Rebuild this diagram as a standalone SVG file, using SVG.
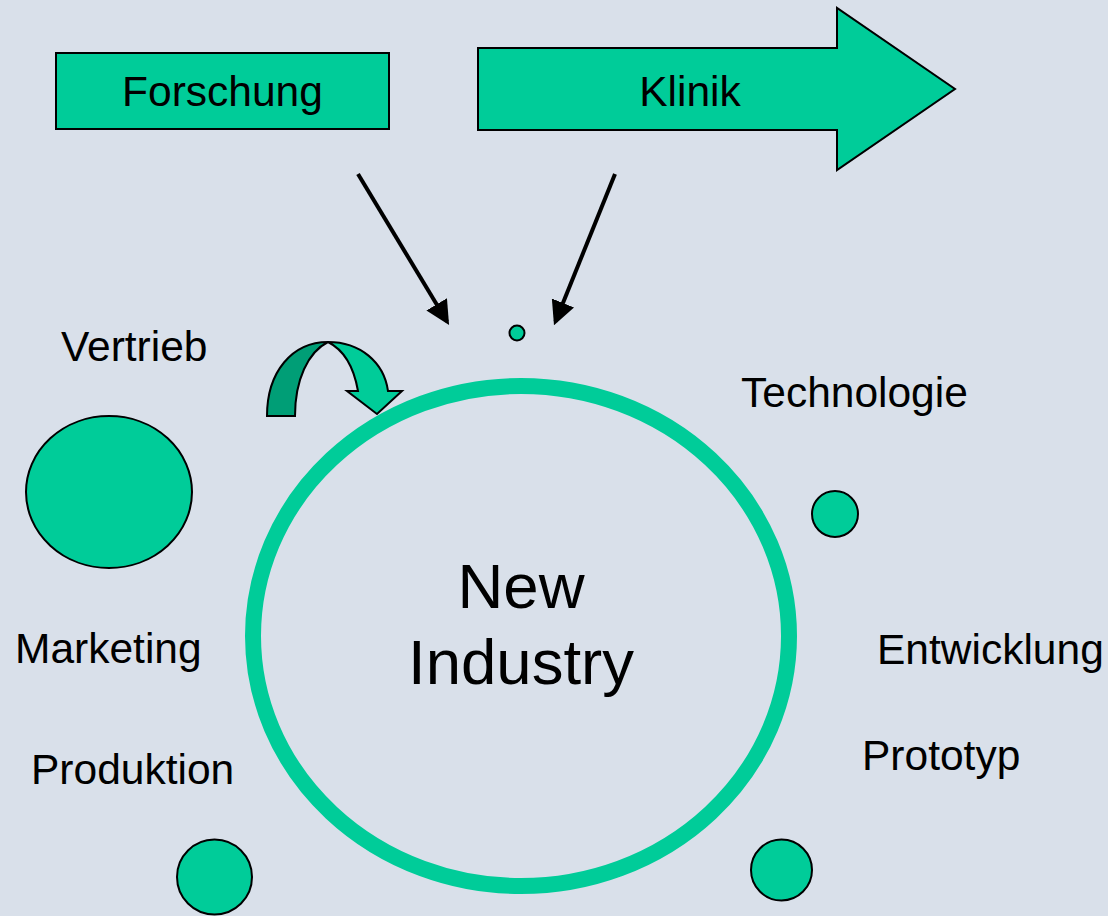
<svg xmlns="http://www.w3.org/2000/svg" width="1108" height="916" viewBox="0 0 1108 916">
<defs>
<style>
.lbl{font-family:"Liberation Sans",Arial,sans-serif;font-size:42.5px;fill:#000}
.big{font-family:"Liberation Sans",Arial,sans-serif;font-size:63.5px;fill:#000;text-anchor:middle}
.g{fill:#00CC99;stroke:#000;stroke-width:2}
.con{stroke:#000;stroke-width:4;fill:none}
</style>
<marker id="ah" markerWidth="6" markerHeight="6" refX="5" refY="3" orient="auto" markerUnits="strokeWidth">
<path d="M0,0 L6,3 L0,6 Z" fill="#000"/>
</marker>
</defs>
<rect width="1108" height="916" fill="#D9E0EA"/>
<g id="forschung">
<rect class="g" x="56" y="53" width="333" height="76"/>
<text class="lbl" x="222.5" y="106" text-anchor="middle">Forschung</text>
</g>
<g id="klinik">
<path class="g" d="M478,48 L837,48 L837,8 L955,89 L837,170 L837,130 L478,130 Z"/>
<text class="lbl" x="690" y="106" text-anchor="middle">Klinik</text>
</g>
<g id="connectors">
<line class="con" x1="358" y1="174" x2="447" y2="321.5" marker-end="url(#ah)"/>
<line class="con" x1="615" y1="174" x2="555.5" y2="321.5" marker-end="url(#ah)"/>
</g>
<g id="dot">
<circle class="g" cx="517" cy="333" r="7.5"/>
</g>
<g id="curved-arrow">
<path d="M267,416 C267,372 292,342 328,342 C308,352 295,380 295,416 Z" fill="#009E76" stroke="#000" stroke-width="2"/>
<path class="g" d="M328,342 C360,342 384,362 388,391 L402,391 L377,414 L347,391 L358,391 C354,368 344,350 328,342 Z"/>
</g>
<g id="new-industry">
<ellipse cx="521" cy="636" rx="268" ry="250" fill="none" stroke="#00CC99" stroke-width="16"/>
<text class="big" x="521" y="608">New</text>
<text class="big" x="521" y="684">Industry</text>
</g>
<g id="vertrieb">
<ellipse class="g" cx="109" cy="492" rx="83" ry="76"/>
<text class="lbl" x="61" y="361">Vertrieb</text>
</g>
<g id="technologie">
<circle class="g" cx="835" cy="514" r="23"/>
<text class="lbl" x="741" y="407">Technologie</text>
</g>
<g id="marketing">
<text class="lbl" x="15" y="663">Marketing</text>
</g>
<g id="entwicklung">
<text class="lbl" x="877" y="664">Entwicklung</text>
</g>
<g id="produktion">
<circle class="g" cx="214.5" cy="877" r="37.5"/>
<text class="lbl" x="31" y="784">Produktion</text>
</g>
<g id="prototyp">
<circle class="g" cx="781.5" cy="870" r="30.5"/>
<text class="lbl" x="862" y="770">Prototyp</text>
</g>
</svg>
